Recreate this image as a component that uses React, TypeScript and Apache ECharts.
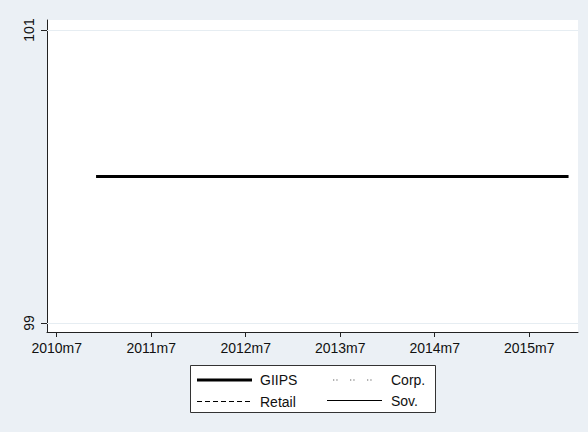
import React, { useRef, useEffect } from 'react';
import * as echarts from 'echarts';

// months are indexed from 2010m7 (= 0)
const periods = ['2010m12', '2011m7', '2012m7', '2013m7', '2014m7', '2015m7', '2015m12'];
const giipsValues = [100, 100, 100, 100, 100, 100, 100];
const corpValues: number[] = [];
const retailValues: number[] = [];
const sovValues: number[] = [];
const seriesNames = ['GIIPS', 'Corp.', 'Retail', 'Sov.'];
const xTickLabels = ['2010m7', '2011m7', '2012m7', '2013m7', '2014m7', '2015m7'];
const yTicks = [99, 101];

const FONT = '"Liberation Sans", Arial, sans-serif';
const BG = '#EBF0F5';

const monthIndex = (p: string) => {
  const [y, m] = p.split('m').map(Number);
  return (y - 2010) * 12 + (m - 7);
};

const toPairs = (vals: number[]) => vals.map((v, i) => [monthIndex(periods[i]), v]);

const App: React.FC = () => {
  const chartRef = useRef<HTMLDivElement>(null);

  useEffect(() => {
    if (!chartRef.current) return;
    const chart = echarts.init(chartRef.current, undefined, { renderer: 'svg' });

    const xTicks = xTickLabels.map(monthIndex);

    // legend drawn by hand (Stata style, 2 columns)
    const legendStyles = [
      { stroke: '#000', lineWidth: 3, lineDash: null as number[] | null, x1: 197, x2: 252, tx: 260, y: 380 },
      { stroke: '#666', lineWidth: 1.2, lineDash: [1.3, 2, 1.3, 12.4], x1: 333, x2: 373, tx: 391, y: 380 },
      { stroke: '#000', lineWidth: 1, lineDash: [5, 3], x1: 197, x2: 252, tx: 260, y: 401.5 },
      { stroke: '#000', lineWidth: 1.2, lineDash: null, x1: 327, x2: 382, tx: 391, y: 400.5 },
    ];
    const legendGraphics: any[] = [
      {
        type: 'rect',
        shape: { x: 190.5, y: 365.5, width: 245, height: 47 },
        style: { fill: '#fff', stroke: '#333', lineWidth: 1 },
      },
    ];
    seriesNames.forEach((name, i) => {
      const s = legendStyles[i];
      legendGraphics.push({
        type: 'line',
        shape: { x1: s.x1, y1: s.y, x2: s.x2, y2: s.y },
        style: { stroke: s.stroke, lineWidth: s.lineWidth, lineDash: s.lineDash || undefined },
      });
      legendGraphics.push({
        type: 'text',
        x: s.tx,
        y: s.y,
        style: { text: name, font: `14px ${FONT}`, fill: '#111', verticalAlign: 'middle' },
      });
    });

    chart.setOption({
      animation: false,
      backgroundColor: BG,
      textStyle: { fontFamily: FONT },
      grid: {
        left: 47,
        right: 10,
        top: 20,
        bottom: 100,
        show: true,
        backgroundColor: '#fff',
        borderWidth: 0,
      },
      xAxis: {
        type: 'value',
        min: -1.23,
        max: 66.2,
        axisLine: { show: true, onZero: false, lineStyle: { color: '#222', width: 1 } },
        axisTick: { show: true, length: 5, customValues: xTicks, lineStyle: { color: '#222' } },
        axisLabel: {
          customValues: xTicks,
          formatter: (v: number) => xTickLabels[xTicks.indexOf(Math.round(v))] ?? '',
          fontSize: 14,
          color: '#111',
          margin: 9,
        },
        splitLine: { show: false },
      },
      yAxis: {
        type: 'value',
        min: 99 - 9 / 146.5,
        max: 101 + 10 / 146.5,
        axisLine: { show: true, onZero: false, lineStyle: { color: '#222', width: 1 } },
        axisTick: { show: true, length: 6, customValues: yTicks, lineStyle: { color: '#222' } },
        axisLabel: {
          customValues: yTicks,
          rotate: 90,
          fontSize: 14,
          color: '#111',
          margin: 11,
        },
        splitLine: { show: false },
      },
      series: [
        {
          name: seriesNames[0],
          type: 'line',
          data: toPairs(giipsValues),
          symbol: 'none',
          lineStyle: { color: '#000', width: 3, cap: 'butt' },
          z: 3,
          markLine: {
            silent: true,
            symbol: 'none',
            label: { show: false },
            lineStyle: { color: '#E6EDF2', width: 1, type: 'solid' },
            data: yTicks.map((v) => ({ yAxis: v })),
            z: 1,
          },
        },
        { name: seriesNames[1], type: 'line', data: toPairs(corpValues), symbol: 'none', lineStyle: { color: '#666', width: 1.2, type: [1.3, 2, 1.3, 12.4] } },
        { name: seriesNames[2], type: 'line', data: toPairs(retailValues), symbol: 'none', lineStyle: { color: '#000', width: 1, type: [5, 3] } },
        { name: seriesNames[3], type: 'line', data: toPairs(sovValues), symbol: 'none', lineStyle: { color: '#000', width: 1.2 } },
      ],
      graphic: legendGraphics,
    });

    return () => {
      chart.dispose();
    };
  }, []);

  return (
    <div
      ref={chartRef}
      style={{ position: 'fixed', left: 0, top: 0, width: 588, height: 432 }}
    />
  );
};

export default App;
